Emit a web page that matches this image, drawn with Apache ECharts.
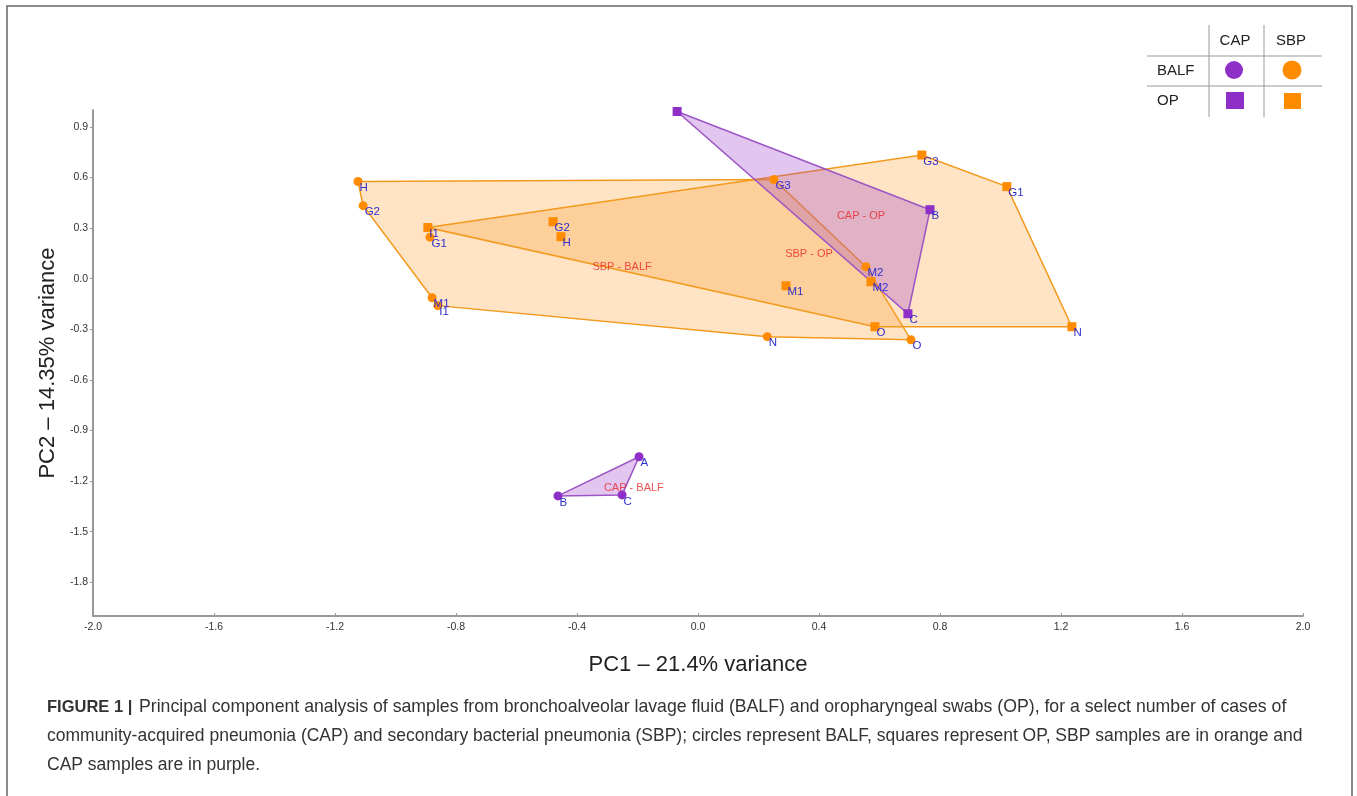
<!DOCTYPE html>
<html>
<head>
<meta charset="utf-8">
<title>PCA BALF / OP</title>
<script src="https://cdn.jsdelivr.net/npm/echarts@6.0.0/dist/echarts.min.js"></script>
<style>
  html, body { margin: 0; padding: 0; background: #fff; }
  #chart { width: 1357px; height: 796px; }
</style>
</head>
<body>
<div id="chart"></div>
<script>
// SBP - BALF (orange circles)
const sbpBalfNames = ['H', 'G2', 'G1', 'M1', 'I1', 'N', 'O', 'M2', 'G3']
const sbpBalfPC1 = [-1.124, -1.107, -0.886, -0.879, -0.860, 0.229, 0.704, 0.555, 0.251]
const sbpBalfPC2 = [0.576, 0.433, 0.246, -0.113, -0.160, -0.344, -0.362, 0.071, 0.588]
const sbpBalfHull = ['H', 'G3', 'M2', 'O', 'N', 'I1', 'M1', 'G2']

// SBP - OP (orange squares)
const sbpOpNames = ['I1', 'G2', 'H', 'M1', 'M2', 'O', 'G3', 'G1', 'N']
const sbpOpPC1 = [-0.893, -0.479, -0.453, 0.291, 0.572, 0.585, 0.740, 1.021, 1.236]
const sbpOpPC2 = [0.303, 0.338, 0.249, -0.042, -0.018, -0.285, 0.733, 0.546, -0.285]
const sbpOpHull = ['I1', 'G3', 'G1', 'N', 'O']

// CAP - OP (purple squares)
const capOpNames = ['', 'B', 'C']
const capOpPC1 = [-0.069, 0.767, 0.694]
const capOpPC2 = [0.991, 0.409, -0.208]
const capOpHull = ['', 'B', 'C']

// CAP - BALF (purple circles)
const capBalfNames = ['A', 'B', 'C']
const capBalfPC1 = [-0.195, -0.463, -0.251]
const capBalfPC2 = [-1.056, -1.288, -1.282]
const capBalfHull = ['A', 'B', 'C']

// group captions
const groupNames = ['CAP - OP', 'SBP - OP', 'SBP - BALF', 'CAP - BALF']
const groupPC1 = [0.539, 0.367, -0.251, -0.212]
const groupPC2 = [0.374, 0.148, 0.071, -1.240]

const yTicks = [-1.8, -1.5, -1.2, -0.9, -0.6, -0.3, 0.0, 0.3, 0.6, 0.9]

const ORANGE = '#ff8c00'
const PURPLE = '#8e2fc8'
const NARROW = "'Liberation Sans Narrow', 'Liberation Sans', sans-serif"
const SANS = "'Liberation Sans', Arial, sans-serif"

const chart = echarts.init(document.getElementById('chart'))

const hullSeries = (names, pc1, pc2, hull, stroke, fill) => ({
  type: 'custom',
  coordinateSystem: 'cartesian2d',
  silent: true,
  clip: false,
  data: [[0, 0]],
  renderItem: (params, api) => {
    const points = hull.map(n => {
      const i = names.indexOf(n)
      return api.coord([pc1[i], pc2[i]])
    })
    return {
      type: 'polygon',
      shape: { points },
      style: { fill, stroke, lineWidth: 1.5 }
    }
  }
})

const pointSeries = (names, pc1, pc2, symbol, color) => ({
  type: 'scatter',
  symbol,
  symbolSize: 9,
  itemStyle: { color, opacity: 1 },
  z: 5,
  label: {
    show: true,
    formatter: '{b}',
    position: [6, 5],
    align: 'left',
    verticalAlign: 'top',
    color: '#2f2fcc',
    fontFamily: SANS,
    fontSize: 11.5
  },
  data: names.map((n, i) => ({ name: n, value: [pc1[i], pc2[i]] }))
})

const captionLines = [
  'Principal component analysis of samples from bronchoalveolar lavage fluid (BALF) and oropharyngeal swabs (OP), for a select number of cases of',
  'community-acquired pneumonia (CAP) and secondary bacterial pneumonia (SBP); circles represent BALF, squares represent OP, SBP samples are in orange and',
  'CAP samples are in purple.'
]

const option = {
  animation: false,
  backgroundColor: '#fff',
  grid: { left: 93, right: 54, top: 110, bottom: 180 },
  xAxis: {
    type: 'value',
    min: -2.0,
    max: 2.0,
    interval: 0.4,
    name: 'PC1 – 21.4% variance',
    nameLocation: 'middle',
    nameGap: 38,
    nameTextStyle: { fontFamily: SANS, fontSize: 22, color: '#222' },
    axisLine: { onZero: false, lineStyle: { color: '#9a9a9a', width: 2 } },
    axisTick: { show: true, inside: true, length: 3, lineStyle: { color: '#9a9a9a' } },
    axisLabel: {
      color: '#333', fontFamily: NARROW, fontSize: 10.5, margin: 6,
      formatter: v => v.toFixed(1)
    },
    splitLine: { show: false }
  },
  yAxis: {
    type: 'value',
    min: -2.0,
    max: 1.0,
    name: 'PC2 – 14.35% variance',
    nameLocation: 'middle',
    nameGap: 26,
    nameTextStyle: { fontFamily: SANS, fontSize: 22, color: '#222' },
    axisLine: { show: true, onZero: false, lineStyle: { color: '#9a9a9a', width: 2 } },
    axisTick: { show: true, length: 3, customValues: yTicks, lineStyle: { color: '#9a9a9a' } },
    axisLabel: {
      color: '#333', fontFamily: NARROW, fontSize: 10.5, margin: 5,
      customValues: yTicks,
      formatter: v => v.toFixed(1)
    },
    splitLine: { show: false }
  },
  series: [
    hullSeries(sbpBalfNames, sbpBalfPC1, sbpBalfPC2, sbpBalfHull, '#f39a1e', 'rgba(251,160,50,0.29)'),
    hullSeries(sbpOpNames, sbpOpPC1, sbpOpPC2, sbpOpHull, '#f39a1e', 'rgba(251,160,50,0.29)'),
    hullSeries(capOpNames, capOpPC1, capOpPC2, capOpHull, '#9b55c4', 'rgba(150,50,200,0.28)'),
    hullSeries(capBalfNames, capBalfPC1, capBalfPC2, capBalfHull, '#9b55c4', 'rgba(150,50,200,0.28)'),
    pointSeries(sbpBalfNames, sbpBalfPC1, sbpBalfPC2, 'circle', ORANGE),
    pointSeries(sbpOpNames, sbpOpPC1, sbpOpPC2, 'rect', ORANGE),
    pointSeries(capOpNames, capOpPC1, capOpPC2, 'rect', PURPLE),
    pointSeries(capBalfNames, capBalfPC1, capBalfPC2, 'circle', PURPLE),
    {
      type: 'scatter',
      symbolSize: 0,
      z: 6,
      silent: true,
      label: {
        show: true,
        position: 'inside',
        formatter: '{b}',
        color: '#e8252a',
        fontFamily: SANS,
        fontSize: 11
      },
      data: groupNames.map((n, i) => ({ name: n, value: [groupPC1[i], groupPC2[i]] }))
    }
  ],
  graphic: [
    // outer frame
    { type: 'rect', shape: { x: 7, y: 6, width: 1345, height: 800 },
      style: { fill: null, stroke: '#666', lineWidth: 1.5 }, silent: true },
    // legend table
    { type: 'line', shape: { x1: 1209, y1: 25, x2: 1209, y2: 117 }, style: { stroke: '#999', lineWidth: 1 } },
    { type: 'line', shape: { x1: 1264, y1: 25, x2: 1264, y2: 117 }, style: { stroke: '#999', lineWidth: 1 } },
    { type: 'line', shape: { x1: 1147, y1: 56, x2: 1322, y2: 56 }, style: { stroke: '#999', lineWidth: 1 } },
    { type: 'line', shape: { x1: 1147, y1: 86, x2: 1322, y2: 86 }, style: { stroke: '#999', lineWidth: 1 } },
    { type: 'text', x: 1235, y: 41, style: { text: 'CAP', font: '15px ' + SANS, fill: '#222', textAlign: 'center', textVerticalAlign: 'middle' } },
    { type: 'text', x: 1291, y: 41, style: { text: 'SBP', font: '15px ' + SANS, fill: '#222', textAlign: 'center', textVerticalAlign: 'middle' } },
    { type: 'text', x: 1157, y: 71, style: { text: 'BALF', font: '15px ' + SANS, fill: '#222', textAlign: 'left', textVerticalAlign: 'middle' } },
    { type: 'text', x: 1157, y: 101, style: { text: 'OP', font: '15px ' + SANS, fill: '#222', textAlign: 'left', textVerticalAlign: 'middle' } },
    { type: 'circle', shape: { cx: 1234, cy: 70, r: 9 }, style: { fill: PURPLE } },
    { type: 'circle', shape: { cx: 1292, cy: 70, r: 9.5 }, style: { fill: ORANGE } },
    { type: 'rect', shape: { x: 1226, y: 92, width: 18, height: 17 }, style: { fill: PURPLE } },
    { type: 'rect', shape: { x: 1284, y: 93, width: 17, height: 16 }, style: { fill: ORANGE } },
    // caption
    { type: 'text', x: 47, y: 707,
      style: { text: 'FIGURE 1 |', font: 'bold 16.5px ' + SANS, fill: '#333', textVerticalAlign: 'middle' } },
    { type: 'text', x: 139, y: 707,
      style: { text: captionLines[0], font: '17.7px ' + SANS, fill: '#333', textVerticalAlign: 'middle' } },
    { type: 'text', x: 47, y: 736,
      style: { text: captionLines[1], font: '17.5px ' + SANS, fill: '#333', textVerticalAlign: 'middle' } },
    { type: 'text', x: 47, y: 765,
      style: { text: captionLines[2], font: '17.5px ' + SANS, fill: '#333', textVerticalAlign: 'middle' } }
  ]
}

chart.setOption(option)
window.addEventListener('resize', () => chart.resize())
</script>
</body>
</html>
